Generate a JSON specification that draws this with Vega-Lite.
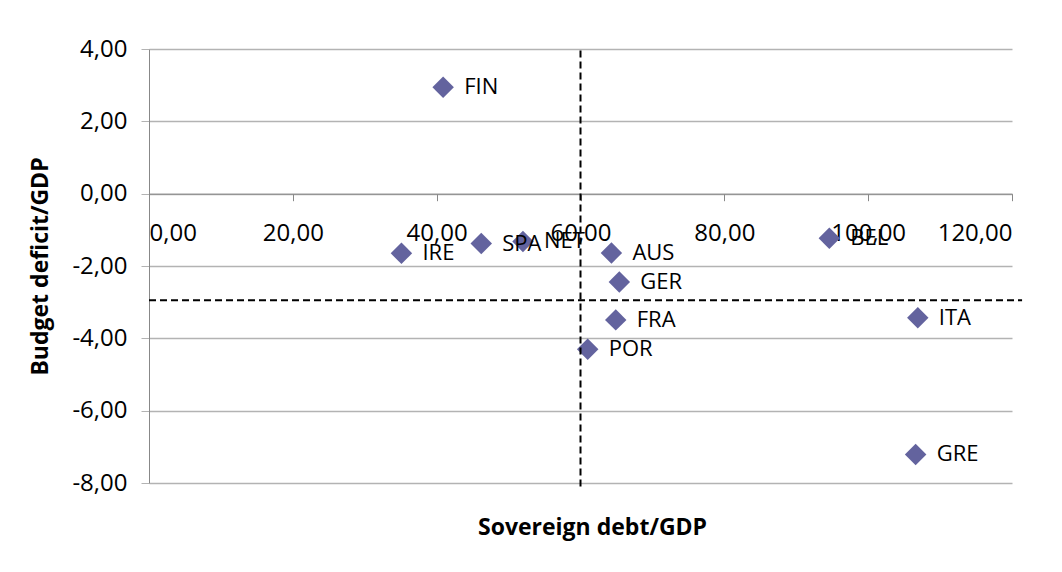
{
  "$schema": "https://vega.github.io/schema/vega-lite/v6.json",
  "autosize": "none",
  "width": 863,
  "height": 434,
  "padding": {"left": 149, "top": 49, "right": 50, "bottom": 89},
  "background": "white",
  "config": {
    "view": {"stroke": null},
    "font": "Open Sans",
    "axis": {"labelFont": "Open Sans", "titleFont": "Open Sans", "labelColor": "black", "titleColor": "black"}
  },
  "datasets": {
    "countries": [
      {"country": "FIN", "debt": 40.9, "deficit": 2.94},
      {"country": "IRE", "debt": 35.1, "deficit": -1.65},
      {"country": "SPA", "debt": 46.2, "deficit": -1.38},
      {"country": "NET", "debt": 52.0, "deficit": -1.32},
      {"country": "AUS", "debt": 64.3, "deficit": -1.64},
      {"country": "GER", "debt": 65.4, "deficit": -2.44},
      {"country": "FRA", "debt": 64.9, "deficit": -3.49},
      {"country": "POR", "debt": 61.0, "deficit": -4.30},
      {"country": "BEL", "debt": 94.6, "deficit": -1.23},
      {"country": "ITA", "debt": 106.9, "deficit": -3.43},
      {"country": "GRE", "debt": 106.6, "deficit": -7.21}
    ],
    "refLines": [
      {"line": "h", "debt": 0, "deficit": -2.95},
      {"line": "h", "debt": 121.4, "deficit": -2.95},
      {"line": "v", "debt": 60, "deficit": 4},
      {"line": "v", "debt": 60, "deficit": -8.1}
    ]
  },
  "layer": [
    {
      "data": {"name": "countries"},
      "mark": {"type": "point", "shape": "diamond", "filled": true, "size": 460, "color": "#63639e", "opacity": 1},
      "encoding": {
        "x": {
          "field": "debt", "type": "quantitative",
          "scale": {"domain": [0, 120], "nice": false},
          "axis": {
            "values": [0, 20, 40, 60, 80, 100, 120],
            "offset": -289.3,
            "grid": false,
            "domainColor": "#888888",
            "tickColor": "#888888",
            "tickSize": 7,
            "labelFontSize": 24,
            "labelPadding": 21,
            "labelExpr": "(datum.value < 0 ? '-' : '') + replace(format(abs(datum.value), '.2f'), '.', ',')",
            "title": "Sovereign debt/GDP",
            "titleFontSize": 23,
            "titleFontWeight": "bold",
            "titleX": 443,
            "titleY": 334,
            "titleBaseline": "middle",
            "titleAlign": "center"
          }
        },
        "y": {
          "field": "deficit", "type": "quantitative",
          "scale": {"domain": [-8, 4], "nice": false},
          "axis": {
            "values": [-8, -6, -4, -2, 0, 2, 4],
            "grid": true,
            "gridColor": "#b3b3b3",
            "gridWidth": 1.3,
            "domainColor": "#888888",
            "tickColor": "#b3b3b3",
            "tickSize": 8,
            "labelFontSize": 24,
            "labelPadding": 14,
            "labelExpr": "(datum.value < 0 ? '-' : '') + replace(format(abs(datum.value), '.2f'), '.', ',')",
            "title": "Budget deficit/GDP",
            "titleFontSize": 23,
            "titleFontWeight": "bold",
            "titleX": -109,
            "titleY": 217,
            "titleBaseline": "middle",
            "titleAlign": "center"
          }
        }
      }
    },
    {
      "data": {"name": "refLines"},
      "mark": {"type": "line", "color": "black", "strokeWidth": 2, "strokeDash": [7, 4], "clip": false},
      "encoding": {
        "x": {"field": "debt", "type": "quantitative"},
        "y": {"field": "deficit", "type": "quantitative"},
        "detail": {"field": "line"},
        "order": {"field": "deficit"}
      }
    },
    {
      "data": {"name": "countries"},
      "mark": {"type": "text", "align": "left", "baseline": "middle", "dx": 21, "fontSize": 22, "color": "black", "font": "Open Sans"},
      "encoding": {
        "x": {"field": "debt", "type": "quantitative"},
        "y": {"field": "deficit", "type": "quantitative"},
        "text": {"field": "country"}
      }
    }
  ]
}
